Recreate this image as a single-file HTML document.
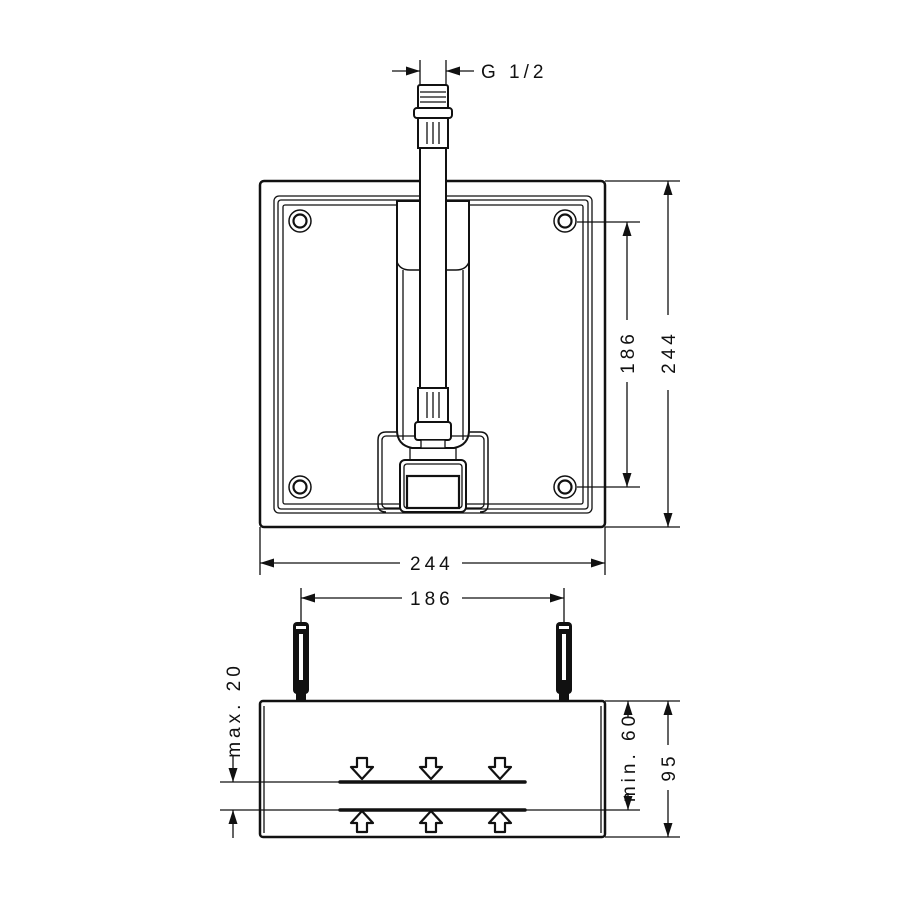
<!DOCTYPE html>
<html><head><style>html,body{margin:0;padding:0;background:#fff}svg{display:block}text{font-family:"Liberation Sans",sans-serif;font-size:19px;fill:#111;letter-spacing:4px}</style></head><body>
<svg width="900" height="900" viewBox="0 0 900 900" xmlns="http://www.w3.org/2000/svg">
<defs>
<marker id="a" viewBox="0 0 14 10" refX="14" refY="5" markerWidth="14" markerHeight="10" markerUnits="userSpaceOnUse" orient="auto-start-reverse"><path d="M0,0.5 L14,5 L0,9.5 z" fill="#111"/></marker>
</defs>
<g fill="none" stroke="#111" stroke-width="1.3">
<rect x="260" y="181" width="345" height="346" rx="4" stroke-width="2.5"/>
<rect x="274" y="196" width="318" height="317" rx="5"/>
<rect x="278" y="200" width="310" height="309" rx="3"/>
<rect x="283" y="205" width="300" height="299" rx="2"/>
<g stroke-width="1.5">
<circle cx="300" cy="221" r="11"/><circle cx="300" cy="221" r="6.5" stroke-width="2.2"/>
<circle cx="565" cy="221" r="11"/><circle cx="565" cy="221" r="6.5" stroke-width="2.2"/>
<circle cx="300" cy="487" r="11"/><circle cx="300" cy="487" r="6.5" stroke-width="2.2"/>
<circle cx="565" cy="487" r="11"/><circle cx="565" cy="487" r="6.5" stroke-width="2.2"/>
</g>
<path d="M397,201 V430 Q397,445 412,448 H454 Q469,445 469,430 V201 Z" fill="#fff" stroke-width="2"/>
<path d="M397,262 Q400,270 410,270 H456 Q466,270 469,262" stroke-width="1.5"/>
<line x1="403" y1="270" x2="403" y2="440"/><line x1="463" y1="270" x2="463" y2="440"/>
<path d="M378,440 Q378,432 386,432 H397 M469,432 H480 Q488,432 488,440 V505 Q488,512 480,512" stroke-width="1.5"/>
<path d="M378,440 V505 Q378,512 386,512" stroke-width="1.5"/>
<rect x="382" y="436" width="102" height="72" rx="4" fill="none"/>
<rect x="400" y="460" width="66" height="52" rx="5" fill="#fff" stroke-width="2"/>
<rect x="404" y="464" width="58" height="44" rx="3"/>
<rect x="407" y="476" width="52" height="32" stroke-width="2.2"/>
<rect x="410" y="448" width="46" height="12"/>
<rect x="420" y="148" width="26" height="240" fill="#fff" stroke-width="2"/>
<rect x="418" y="85" width="30" height="24" rx="2" fill="#fff" stroke-width="2"/>
<line x1="420" y1="92" x2="446" y2="92"/><line x1="420" y1="97" x2="446" y2="97"/><line x1="420" y1="102" x2="446" y2="102"/>
<rect x="414" y="108" width="38" height="10" rx="3" fill="#fff" stroke-width="2"/>
<rect x="418" y="118" width="30" height="30" fill="#fff" stroke-width="2"/>
<line x1="427" y1="122" x2="427" y2="144"/><line x1="433" y1="122" x2="433" y2="144"/><line x1="439" y1="122" x2="439" y2="144"/>
<rect x="418" y="388" width="30" height="34" fill="#fff" stroke-width="2"/>
<line x1="427" y1="392" x2="427" y2="418"/><line x1="433" y1="392" x2="433" y2="418"/><line x1="439" y1="392" x2="439" y2="418"/>
<rect x="415" y="422" width="36" height="18" rx="3" fill="#fff" stroke-width="2"/>
<rect x="421" y="440" width="24" height="8" fill="#fff"/>
<line x1="420" y1="60" x2="420" y2="85"/><line x1="446" y1="60" x2="446" y2="85"/>
<line x1="392" y1="71" x2="420" y2="71" marker-end="url(#a)"/>
<line x1="474" y1="71" x2="446" y2="71" marker-end="url(#a)"/>
<line x1="605" y1="181" x2="680" y2="181"/><line x1="605" y1="527" x2="680" y2="527"/>
<line x1="577" y1="222" x2="640" y2="222"/><line x1="577" y1="487" x2="640" y2="487"/>
<line x1="627" y1="320" x2="627" y2="222" marker-end="url(#a)"/><line x1="627" y1="382" x2="627" y2="487" marker-end="url(#a)"/>
<line x1="668" y1="315" x2="668" y2="181" marker-end="url(#a)"/><line x1="668" y1="390" x2="668" y2="527" marker-end="url(#a)"/>
<line x1="260" y1="527" x2="260" y2="575"/><line x1="605" y1="527" x2="605" y2="575"/>
<line x1="400" y1="563" x2="260" y2="563" marker-end="url(#a)"/><line x1="462" y1="563" x2="605" y2="563" marker-end="url(#a)"/>
<line x1="301" y1="588" x2="301" y2="622"/><line x1="564" y1="588" x2="564" y2="622"/>
<line x1="402" y1="598" x2="301" y2="598" marker-end="url(#a)"/><line x1="462" y1="598" x2="564" y2="598" marker-end="url(#a)"/>
<rect x="260" y="701" width="345" height="136" rx="3" stroke-width="2.5"/>
<line x1="264" y1="706" x2="264" y2="833"/><line x1="601" y1="706" x2="601" y2="833"/>
<line x1="340" y1="782" x2="525" y2="782" stroke-width="3.5" stroke-linecap="round"/>
<line x1="340" y1="810" x2="525" y2="810" stroke-width="3.5" stroke-linecap="round"/>
<line x1="220" y1="782" x2="340" y2="782"/><line x1="220" y1="810" x2="340" y2="810"/>
<line x1="525" y1="810" x2="640" y2="810"/>
<line x1="605" y1="701" x2="680" y2="701"/><line x1="605" y1="837" x2="680" y2="837"/>
<line x1="233" y1="755" x2="233" y2="782" marker-end="url(#a)"/>
<line x1="233" y1="838" x2="233" y2="810" marker-end="url(#a)"/>
<line x1="628" y1="718" x2="628" y2="701" marker-end="url(#a)"/><line x1="628" y1="793" x2="628" y2="810" marker-end="url(#a)"/>
<line x1="668" y1="745" x2="668" y2="701" marker-end="url(#a)"/><line x1="668" y1="790" x2="668" y2="837" marker-end="url(#a)"/>
</g>
<g fill="#fff" stroke="#111" stroke-width="2.2" stroke-linejoin="round">
<path d="M357,758 h10 v9 h6 l-11,12 l-11,-12 h6 z"/>
<path d="M426,758 h10 v9 h6 l-11,12 l-11,-12 h6 z"/>
<path d="M495,758 h10 v9 h6 l-11,12 l-11,-12 h6 z"/>
<path d="M357,832 h10 v-9 h6 l-11,-12 l-11,12 h6 z"/>
<path d="M426,832 h10 v-9 h6 l-11,-12 l-11,12 h6 z"/>
<path d="M495,832 h10 v-9 h6 l-11,-12 l-11,12 h6 z"/>
</g>
<g fill="#111">
<rect x="293" y="622" width="16" height="72" rx="4"/>
<rect x="296" y="692" width="10" height="9"/>
<rect x="556" y="622" width="16" height="72" rx="4"/>
<rect x="559" y="692" width="10" height="9"/>
</g>
<g fill="#fff"><rect x="299" y="634" width="4" height="46"/><rect x="562" y="634" width="4" height="46"/>
<rect x="296" y="626" width="10" height="3"/><rect x="559" y="626" width="10" height="3"/></g>
<text x="481" y="78">G 1/2</text>
<text x="410" y="570">244</text>
<text x="410" y="605">186</text>
<text transform="translate(634,352) rotate(-90)" text-anchor="middle">186</text>
<text transform="translate(675,352) rotate(-90)" text-anchor="middle">244</text>
<text transform="translate(240,710) rotate(-90)" text-anchor="middle">max. 20</text>
<text transform="translate(635,757) rotate(-90)" text-anchor="middle">min. 60</text>
<text transform="translate(675,767) rotate(-90)" text-anchor="middle">95</text>
</svg>
</body></html>
